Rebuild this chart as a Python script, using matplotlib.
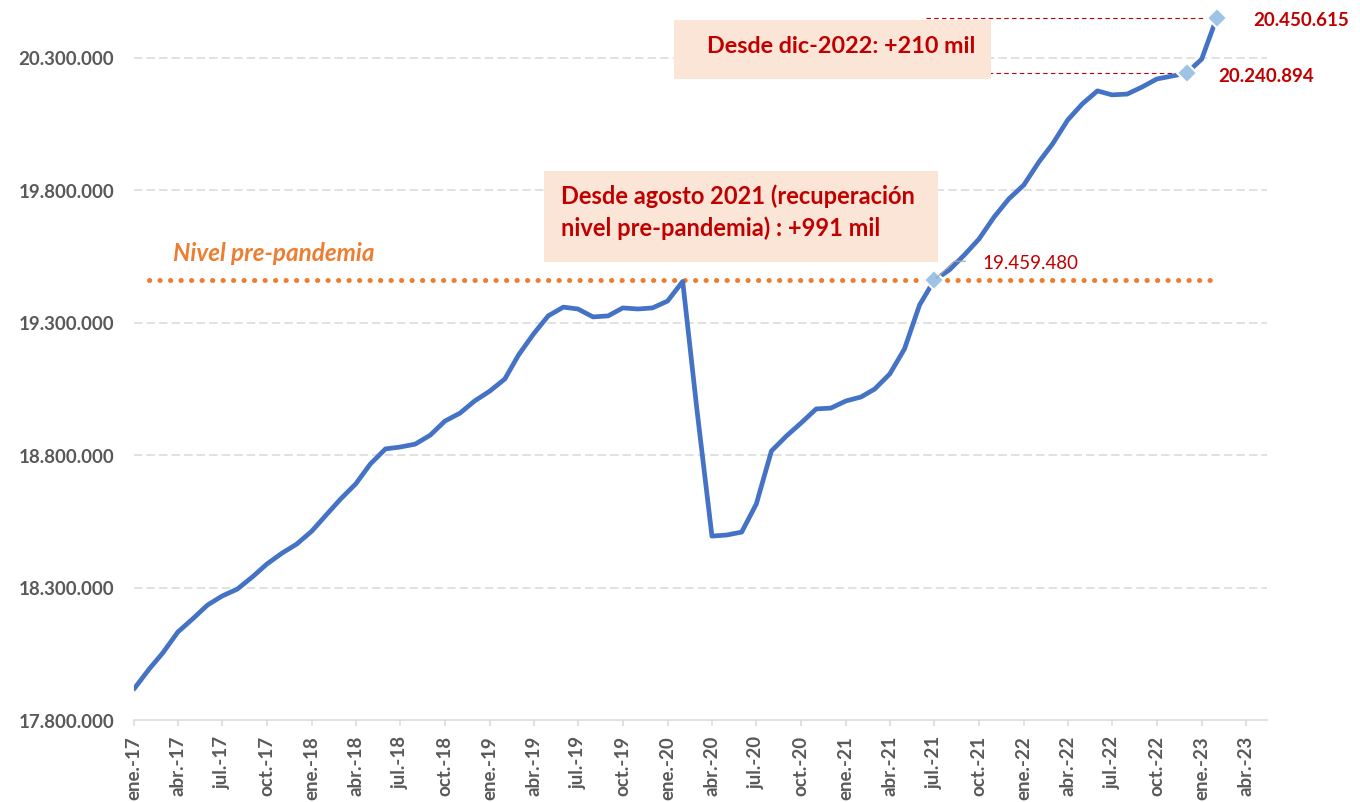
import matplotlib
matplotlib.use("Agg")
import matplotlib.pyplot as plt
import matplotlib.dates as mdates
import pandas as pd
from matplotlib.patches import Rectangle
from matplotlib.lines import Line2D

plt.rcParams['font.family'] = ['Lato', 'DejaVu Sans']

# ---------------- data ----------------
months = pd.date_range('2017-01-01', '2023-02-01', freq='MS')
afiliados = [
    17917000, 17992000, 18053000, 18132000, 18181000, 18234000, 18268000, 18294000,
    18340000, 18389000, 18430000, 18464000,                      # 2017
    18513000, 18577000, 18634000, 18691000, 18766000, 18823000, 18830000, 18841000,
    18875000, 18928000, 18958000, 19004000,                      # 2018
    19041000, 19087000, 19177000, 19257000, 19325000, 19358000, 19351000, 19321000,
    19325000, 19355000, 19351000, 19355000,                      # 2019
    19381000, 19455000, 18974000, 18494000, 18498000, 18509000, 18615000, 18815000,
    18872000, 18921000, 18974000, 18977000,                      # 2020
    19004000, 19019000, 19049000, 19106000, 19200000, 19366000, 19459480, 19498000,
    19555000, 19615000, 19698000, 19766000,                      # 2021
    19819000, 19906000, 19974000, 20064000, 20125000, 20174000, 20159000, 20162000,
    20189000, 20219000, 20230000, 20240894,                      # 2022
    20294000, 20450615,                                          # 2023
]
nivel_prepandemia = 19459480
hitos_idx = [54, 71, 73]                      # jul-21, dic-22, ultimo dato
hitos_labels = ['19.459.480', '20.240.894', '20.450.615']

tick_dates = pd.date_range('2017-01-01', '2023-04-01', freq='3MS')
tick_labels = ['ene.-17', 'abr.-17', 'jul.-17', 'oct.-17',
               'ene.-18', 'abr.-18', 'jul.-18', 'oct.-18',
               'ene.-19', 'abr.-19', 'jul.-19', 'oct.-19',
               'ene.-20', 'abr.-20', 'jul.-20', 'oct.-20',
               'ene.-21', 'abr.-21', 'jul.-21', 'oct.-21',
               'ene.-22', 'abr.-22', 'jul.-22', 'oct.-22',
               'ene.-23', 'abr.-23']
y_ticks = [17800000, 18300000, 18800000, 19300000, 19800000, 20300000]

texto_dic = 'Desde dic-2022: +210 mil'
texto_ago = ['Desde agosto 2021 (recuperación', 'nivel pre-pandemia) : +991 mil']
texto_nivel = 'Nivel pre-pandemia'

# ---------------- style ----------------
W, H = 1360, 803
BLUE = '#4472C4'
ORANGE = '#ED7D31'
RED = '#C00000'
GRID = '#D9D9D9'
TXT = '#595959'
DIAM = '#9DC3E6'
BOX = '#FBE5D6'

fig = plt.figure(figsize=(W / 100, H / 100), dpi=100)
ax = fig.add_axes([134 / W, 82 / H, (1267 - 134) / W, 715.5 / H])

def fx(px):
    return px / W

def fy(py):
    return 1 - py / H

ax.set_xlim(pd.Timestamp('2017-01-01'), pd.Timestamp('2023-05-15'))
ax.set_ylim(17800000, 20500000)

# grid
for v in y_ticks[1:]:
    ax.axhline(v, color=GRID, lw=1.1, dashes=(5.5, 2.7), zorder=1)

# pre-pandemic dotted level
ax.plot(months[1:], [nivel_prepandemia] * len(months[1:]), color=ORANGE, lw=3.6,
        dashes=(0.05, 2.05), dash_capstyle='round', zorder=2)

# red dashed reference lines
for i in hitos_idx[1:]:
    ax.hlines(afiliados[i], pd.Timestamp('2021-06-15'), months[i], color=RED,
              lw=0.8, linestyles=(0, (4, 3)), zorder=2)

# main line
ax.plot(months, afiliados, color=BLUE, lw=3.4, solid_joinstyle='round',
        solid_capstyle='round', zorder=3)

# diamonds
ax.plot([months[i] for i in hitos_idx], [afiliados[i] for i in hitos_idx],
        linestyle='none', marker='D', markersize=10, markerfacecolor=DIAM,
        markeredgecolor='white', markeredgewidth=1.5, zorder=4, clip_on=False)

# data labels
offsets = [(48, 12), (32, -8), (36, -7.5)]
weights = ['normal', 'bold', 'bold']
for i, lab, off, wgt in zip(hitos_idx, hitos_labels, offsets, weights):
    ax.annotate(lab, (months[i], afiliados[i]), xytext=off, textcoords='offset pixels',
                ha='left', va='baseline', fontsize=13.5, fontweight=wgt, color=RED,
                annotation_clip=False, zorder=5)

# leader line for the jul-21 label
fig.canvas.draw()
px, py = ax.transData.transform((mdates.date2num(months[hitos_idx[0]]), afiliados[hitos_idx[0]]))
fig.add_artist(Line2D([px + 2, px + 20, px + 31], [py + 2, py + 19, py + 19],
                      transform=None, color='#A6A6A6', lw=0.9, zorder=5))

# axes styling
for s in ['left', 'right', 'top']:
    ax.spines[s].set_visible(False)
ax.spines['bottom'].set_color(GRID)
ax.spines['bottom'].set_linewidth(1.1)
ax.set_yticks(y_ticks)
ax.set_yticklabels([f'{v:,.0f}'.replace(',', '.') for v in y_ticks])
ax.tick_params(axis='y', length=0, pad=14.4, labelsize=13.5, labelcolor=TXT)
ax.set_xticks(tick_dates)
ax.set_xticklabels(tick_labels, rotation=90, ha='center', va='top')
ax.tick_params(axis='x', direction='out', length=4.3, width=1.1, color=GRID,
               pad=6.5, labelsize=13.5, labelcolor=TXT)
for t in ax.get_xticklabels() + ax.get_yticklabels():
    t.set_fontweight('bold')

# annotation boxes
fig.add_artist(Rectangle((fx(674), fy(80)), fx(991 - 674), (80 - 21) / H,
                         transform=fig.transFigure, facecolor=BOX, edgecolor='none', zorder=6))
fig.add_artist(Rectangle((fx(544), fy(263)), fx(938 - 544), (263 - 172) / H,
                         transform=fig.transFigure, facecolor=BOX, edgecolor='none', zorder=6))
fig.text(fx(707), fy(53), texto_dic, ha='left', va='baseline', fontsize=16.8,
         fontweight='bold', color=RED, zorder=7)
fig.text(fx(561), fy(204), texto_ago[0], ha='left', va='baseline', fontsize=17,
         fontweight='bold', color=RED, zorder=7)
fig.text(fx(561), fy(236), texto_ago[1], ha='left', va='baseline', fontsize=17,
         fontweight='bold', color=RED, zorder=7)
fig.text(fx(173), fy(261), texto_nivel, ha='left', va='baseline', fontsize=17.5,
         fontweight='bold', fontstyle='italic', color=ORANGE, zorder=7)

fig.savefig('out.png', dpi=100)
